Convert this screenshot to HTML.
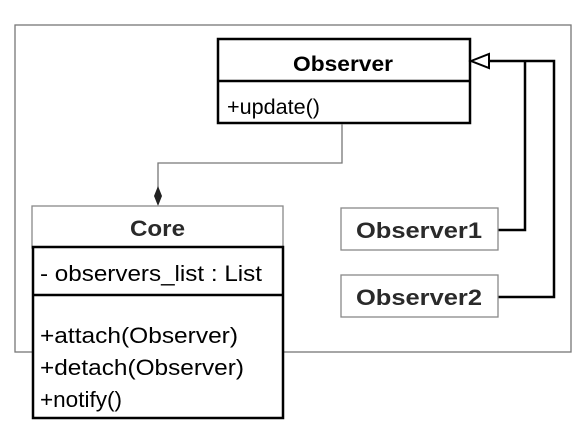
<!DOCTYPE html>
<html><head><style>
body{margin:0;background:#fff;}
svg{display:block;font-family:"Liberation Sans",sans-serif;}
</style></head><body>
<svg width="581" height="428" viewBox="0 0 581 428">
<rect x="15" y="25" width="556" height="327" fill="none" stroke="#777" stroke-width="1.3"/>
<!-- Observer -->
<rect x="218" y="39" width="252" height="84" fill="#fff" stroke="#000" stroke-width="2.5"/>
<line x1="218" y1="81" x2="470" y2="81" stroke="#000" stroke-width="2.5"/>
<text x="293" y="71" font-size="21" font-weight="bold" textLength="100" lengthAdjust="spacingAndGlyphs">Observer</text>
<text x="227" y="114" font-size="21" textLength="93" lengthAdjust="spacingAndGlyphs">+update()</text>
<!-- generalization -->
<polygon points="471,61 489,54 489,68" fill="#fff" stroke="#000" stroke-width="2"/>
<polyline points="489,61 554,61 554,297 498,297" fill="none" stroke="#000" stroke-width="2.5"/>
<polyline points="525,61 525,230 498,230" fill="none" stroke="#000" stroke-width="2.5"/>
<!-- composition -->
<polyline points="342,124 342,163 158,163 158,188" fill="none" stroke="#777" stroke-width="1.3"/>
<polygon points="158,186 162,196 158,206 154,196" fill="#222"/>
<!-- Observer1/2 -->
<rect x="341" y="208" width="157" height="42" fill="#fff" stroke="#888" stroke-width="1.3"/>
<text x="356" y="238" font-size="22" font-weight="bold" fill="#2a2a2a" textLength="126" lengthAdjust="spacingAndGlyphs">Observer1</text>
<rect x="341" y="275" width="157" height="42" fill="#fff" stroke="#888" stroke-width="1.3"/>
<text x="356" y="305" font-size="22" font-weight="bold" fill="#2a2a2a" textLength="126" lengthAdjust="spacingAndGlyphs">Observer2</text>
<!-- Core -->
<rect x="32" y="206" width="251" height="42" fill="#fff" stroke="#888" stroke-width="1.3"/>
<text x="130" y="236" font-size="22" font-weight="bold" fill="#2a2a2a" textLength="55" lengthAdjust="spacingAndGlyphs">Core</text>
<rect x="33" y="247" width="250" height="171" fill="#fff" stroke="#000" stroke-width="2.5"/>
<line x1="33" y1="295" x2="283" y2="295" stroke="#000" stroke-width="2.5"/>
<text x="40" y="281" font-size="22" textLength="222" lengthAdjust="spacingAndGlyphs">- observers_list : List</text>
<text x="40" y="343" font-size="22" textLength="198" lengthAdjust="spacingAndGlyphs">+attach(Observer)</text>
<text x="40" y="375" font-size="22" textLength="204" lengthAdjust="spacingAndGlyphs">+detach(Observer)</text>
<text x="40" y="407" font-size="22" textLength="82" lengthAdjust="spacingAndGlyphs">+notify()</text>
</svg>
</body></html>
